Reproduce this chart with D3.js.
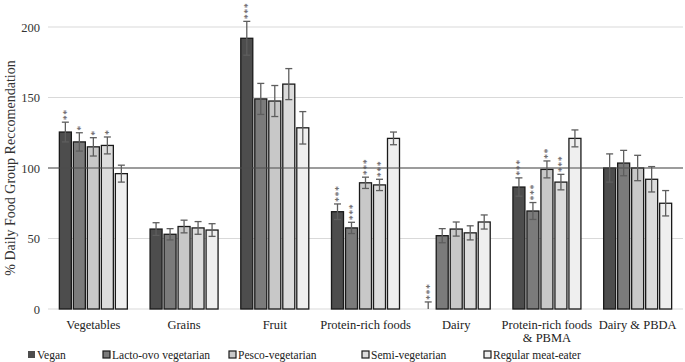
<!DOCTYPE html>
<html lang="en">
<head>
    <meta charset="utf-8">
    <title>Daily food group recommendation</title>
    <script src="https://d3js.org/d3.v7.min.js"></script>
    <style type="text/css">
        body { margin: 0; background: #fff; }
        text { font-family: "Liberation Serif", "Times New Roman", serif; }
    </style>
</head>
<body>
<script type="text/javascript">
    var w = 685;
    var h = 362;

    var categories = ["Vegetables", "Grains", "Fruit", "Protein-rich foods", "Dairy",
        "Protein-rich foods & PBMA", "Dairy & PBDA"];
    var groups = ["Vegan", "Lacto-ovo vegetarian", "Pesco-vegetarian", "Semi-vegetarian", "Regular meat-eater"];
    var yTicks = [0, 50, 100, 150, 200];

    // one array per diet group, one value per category
    var vegan   = [125.5, 56.7, 192, 69, 0, 86.5, 100];
    var lacto   = [118.5, 53, 149, 57.5, 52, 69.5, 103.5];
    var pesco   = [115, 58.5, 147.5, 89.5, 56.7, 99, 100];
    var semi    = [116, 57.5, 159.5, 88, 54, 90, 92];
    var regular = [96, 56, 128.5, 121, 61.7, 121, 75];

    var veganErr   = [7, 4.5, 12, 5.5, 5, 6.5, 10];
    var lactoErr   = [6.5, 4, 11, 4, 5, 6, 9];
    var pescoErr   = [6.5, 4.5, 11, 4, 5, 6, 9];
    var semiErr    = [6, 4.5, 11, 4, 5, 5.5, 9];
    var regularErr = [6, 4.5, 11.5, 4.5, 5, 6, 9];

    // significance stars
    var veganSig   = ["**", "", "***", "***", "***", "***", ""];
    var lactoSig   = ["*", "", "", "***", "", "***", ""];
    var pescoSig   = ["*", "", "", "***", "", "**", ""];
    var semiSig    = ["*", "", "", "***", "", "***", ""];
    var regularSig = ["", "", "", "", "", "", ""];

    var values = [vegan, lacto, pesco, semi, regular];
    var errs = [veganErr, lactoErr, pescoErr, semiErr, regularErr];
    var sigs = [veganSig, lactoSig, pescoSig, semiSig, regularSig];
    var fills = ["#4d4d4d", "#7b7b7b", "#c8c8c8", "#dcdcdc", "#efefef"];

    var plotLeft = 48, plotRight = 683, plotTop = 27, plotBottom = 309;

    var xScale = d3.scaleBand().domain(categories).range([plotLeft, plotRight]);
    var groupW = 68;
    var x1 = d3.scaleBand().domain(groups).range([0, groupW]).paddingInner(0.143);
    var yScale = d3.scaleLinear().domain([0, 200]).range([plotBottom, plotTop]);

    var data = [];
    categories.forEach(function(c, i) {
        groups.forEach(function(g, j) {
            data.push({cat: c, grp: g, gi: j, v: values[j][i], e: errs[j][i], s: sigs[j][i]});
        });
    });

    var svg = d3.select("body").append("svg").attr("width", w).attr("height", h);

    // gridlines
    svg.append("g").selectAll("line")
        .data(yTicks)
        .enter().append("line")
        .attr("x1", plotLeft).attr("x2", plotRight)
        .attr("y1", function(d) { return yScale(d); })
        .attr("y2", function(d) { return yScale(d); })
        .attr("stroke", "#d9d9d9").attr("stroke-width", 1);

    // y axis labels
    var yAxis = d3.axisLeft(yScale).tickValues(yTicks).tickSize(0).tickPadding(8);
    var ya = svg.append("g").attr("transform", "translate(" + plotLeft + ",0)").call(yAxis);
    ya.select(".domain").remove();
    ya.selectAll("text").attr("font-size", "12.5px").attr("fill", "#333")
        .attr("font-family", "Liberation Serif");

    // y title
    svg.append("text")
        .attr("transform", "translate(15," + ((plotTop + plotBottom) / 2) + ") rotate(-90)")
        .attr("text-anchor", "middle")
        .attr("font-size", "14px").attr("fill", "#333")
        .text("% Daily Food Group Reccomendation");

    function bx(d) { return xScale(d.cat) + xScale.bandwidth() / 2 - groupW / 2 + x1(d.grp); }

    // bars
    svg.append("g").selectAll("rect")
        .data(data.filter(function(d) { return d.v > 0; }))
        .enter().append("rect")
        .attr("x", bx)
        .attr("y", function(d) { return yScale(d.v); })
        .attr("width", x1.bandwidth())
        .attr("height", function(d) { return yScale(0) - yScale(d.v); })
        .attr("fill", function(d) { return fills[d.gi]; })
        .attr("stroke", "#1a1a1a").attr("stroke-width", 1.3);

    // reference line at 100
    svg.append("line")
        .attr("x1", plotLeft).attr("x2", plotRight)
        .attr("y1", yScale(100)).attr("y2", yScale(100))
        .attr("stroke", "#4d4d4d").attr("stroke-width", 1);

    // error bars
    var eb = svg.append("g").selectAll("g")
        .data(data)
        .enter().append("g")
        .attr("stroke", "#5e5e5e").attr("stroke-width", 1.3);
    eb.append("line")
        .attr("x1", function(d) { return bx(d) + x1.bandwidth() / 2; })
        .attr("x2", function(d) { return bx(d) + x1.bandwidth() / 2; })
        .attr("y1", function(d) { return yScale(Math.max(0, d.v - d.e)); })
        .attr("y2", function(d) { return yScale(d.v + d.e); });
    eb.append("line")
        .attr("x1", function(d) { return bx(d) + x1.bandwidth() / 2 - 3.5; })
        .attr("x2", function(d) { return bx(d) + x1.bandwidth() / 2 + 3.5; })
        .attr("y1", function(d) { return yScale(d.v + d.e); })
        .attr("y2", function(d) { return yScale(d.v + d.e); });
    eb.filter(function(d) { return d.v - d.e > 0; }).append("line")
        .attr("x1", function(d) { return bx(d) + x1.bandwidth() / 2 - 3.5; })
        .attr("x2", function(d) { return bx(d) + x1.bandwidth() / 2 + 3.5; })
        .attr("y1", function(d) { return yScale(d.v - d.e); })
        .attr("y2", function(d) { return yScale(d.v - d.e); });

    // stars, written upward above each error bar
    svg.append("g").selectAll("text")
        .data(data.filter(function(d) { return d.s.length > 0; }))
        .enter().append("text")
        .attr("transform", function(d) {
            return "translate(" + (bx(d) + x1.bandwidth() / 2) + "," + (yScale(d.v + d.e) - 2) + ") rotate(-90)";
        })
        .attr("dy", "0.45em")
        .attr("font-size", "10px").attr("fill", "#555")
        .attr("letter-spacing", "0.5px")
        .text(function(d) { return d.s; });

    // category labels
    var xl = svg.append("g").selectAll("text")
        .data(categories)
        .enter().append("text")
        .attr("x", function(d) { return xScale(d) + xScale.bandwidth() / 2; })
        .attr("y", 329)
        .attr("text-anchor", "middle")
        .attr("font-size", "12.5px").attr("fill", "#222");
    xl.each(function(d) {
        var t = d3.select(this);
        if (d === "Protein-rich foods & PBMA") {
            t.append("tspan").attr("x", t.attr("x")).text("Protein-rich foods");
            t.append("tspan").attr("x", t.attr("x")).attr("dy", 13).text("& PBMA");
        } else {
            t.text(d);
        }
    });

    // legend
    var legX = [28, 103, 229, 362, 484];
    var leg = svg.append("g").selectAll("g")
        .data(groups)
        .enter().append("g")
        .attr("transform", function(d, i) { return "translate(" + legX[i] + ",355)"; });
    leg.append("rect")
        .attr("x", 0).attr("y", -4).attr("width", 7).attr("height", 7)
        .attr("fill", function(d, i) { return fills[i]; })
        .attr("stroke", function(d, i) { return i === 0 ? "none" : "#1a1a1a"; })
        .attr("stroke-width", 1.2);
    leg.append("text")
        .attr("x", 9).attr("y", 4)
        .attr("font-size", "11.5px").attr("fill", "#222")
        .text(function(d) { return d; });
</script>
</body>
</html>
